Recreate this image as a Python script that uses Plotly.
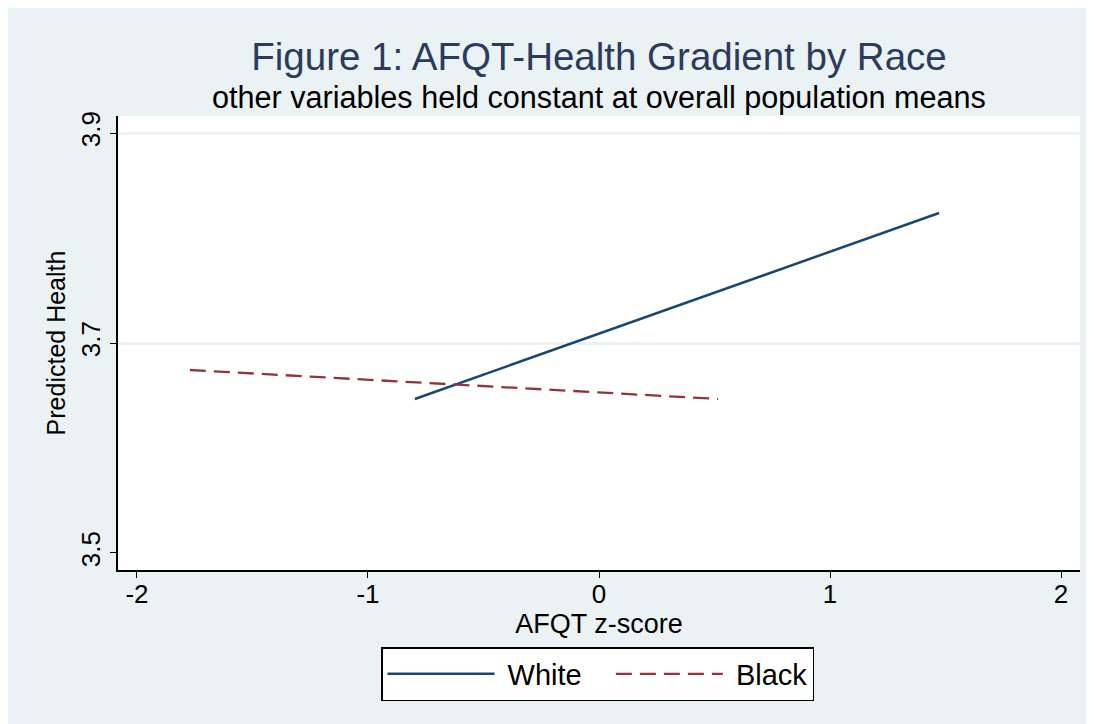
import plotly.graph_objects as go

# ---- data ----
white_x = [-0.797, 1.472]
white_y = [3.6467, 3.8238]
black_x = [-1.771, 0.515]
black_y = [3.6743, 3.6467]

x_ticks = [-2, -1, 0, 1, 2]
x_ticktext = ["-2", "-1", "0", "1", "2"]
y_ticks = [3.5, 3.7, 3.9]
y_grid = [3.7, 3.9]
y_ticktext = ["3.5", "3.7", "3.9"]

FONT = "Liberation Sans, Arial, sans-serif"
BG = "#EAF2F3"
NAVY = "#1A476F"
MAROON = "#90353B"
NB = "\u00a0"

OFF = 8  # page body margin offset
W, H = 1094, 724
L, T = 118 - OFF, 116 - OFF
R = W - (1080 - OFF)
B = H - (570 - OFF)
pw, ph = W - L - R, H - T - B

fig = go.Figure()
fig.add_trace(go.Scatter(x=white_x, y=white_y, mode="lines", name=NB + "White" + NB * 3,
                         line=dict(color=NAVY, width=2.5)))
fig.add_trace(go.Scatter(x=black_x, y=black_y, mode="lines", name=NB + "Black",
                         line=dict(color=MAROON, width=2.3, dash="16px,8px")))
# invisible trace on overlay axis to carry gridlines
fig.add_trace(go.Scatter(x=[None], y=[None], yaxis="y2", showlegend=False, hoverinfo="skip"))

yr = [3.4838, 3.9162]
fig.update_layout(
    width=W, height=H,
    margin=dict(l=L, r=R, t=T, b=B),
    paper_bgcolor=BG, plot_bgcolor="white",
    font=dict(family=FONT, color="black"),
    title=dict(text="Figure 1: AFQT-Health Gradient by Race",
               font=dict(size=38.5, color="#2B3B5E", family=FONT),
               x=(599 - OFF) / W, xanchor="center", xref="container",
               y=1 - (57 - OFF) / H, yanchor="middle", yref="container"),
    xaxis=dict(range=[-2.082, 2.082], tickvals=x_ticks, ticktext=x_ticktext,
               showgrid=False, zeroline=False,
               showline=True, linecolor="black", linewidth=1.5,
               ticks="outside", ticklen=6, tickwidth=1.3, tickcolor="black",
               tickfont=dict(size=26, color="black"), ticklabelstandoff=-6,
               title=dict(text="AFQT z-score", font=dict(size=27, color="black"), standoff=0)),
    yaxis=dict(range=yr, tickvals=y_ticks, ticktext=y_ticktext, showgrid=False, zeroline=False,
               showline=True, linecolor="black", linewidth=1.5,
               ticks="outside", ticklen=6, tickwidth=1.3, tickcolor="black",
               tickangle=-90, tickfont=dict(size=26, color="black"),
               title=dict(text="Predicted Health", font=dict(size=25, color="black"), standoff=3)),
    yaxis2=dict(range=yr, overlaying="y", tickvals=y_grid, showgrid=True, gridcolor=BG,
                gridwidth=2.5, showticklabels=False, ticks="", showline=False, zeroline=False),
    legend=dict(orientation="h", x=(597.5 - OFF) / W, xref="container", xanchor="center",
                y=1 - (647 - OFF) / H, yref="container", yanchor="top",
                bgcolor="white", bordercolor="black", borderwidth=1.5,
                font=dict(size=29, color="black"), itemwidth=107,
                traceorder="normal"),
    showlegend=True,
    annotations=[dict(text="other variables held constant at overall population means",
                      xref="paper", yref="paper", x=(598.5 - 118) / pw, y=(570 - 97) / ph,
                      xanchor="center", yanchor="middle", showarrow=False,
                      font=dict(size=30.6, color="black", family=FONT))],
)

fig.write_html("out.html")
